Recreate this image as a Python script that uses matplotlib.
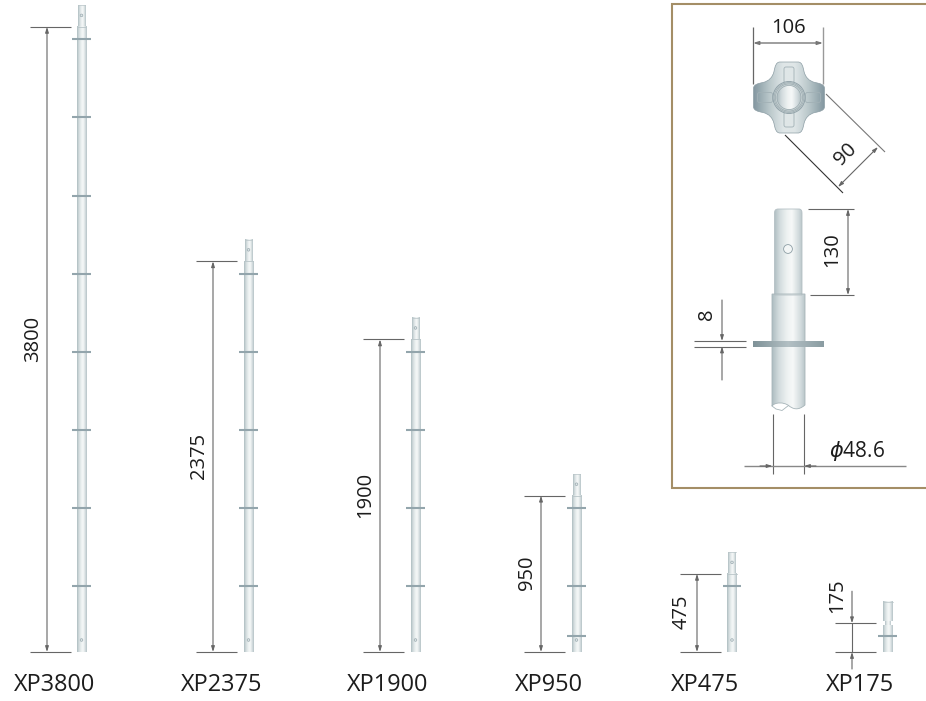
import matplotlib
matplotlib.use("Agg")
import matplotlib.pyplot as plt
import numpy as np
from matplotlib.colors import LinearSegmentedColormap
from matplotlib.patches import Circle, FancyBboxPatch, PathPatch
from matplotlib.path import Path

MODELS = ["XP3800", "XP2375", "XP1900", "XP950", "XP475", "XP175"]
LENGTHS = [3800, 2375, 1900, 950, 475, 175]
LENGTH_LABELS = ["3800", "2375", "1900", "950", "475", "175"]
# ring heights above the foot of each post, mm
RINGS = [
    [400, 875, 1350, 1825, 2300, 2775, 3250, 3725],
    [400, 875, 1350, 1825, 2300],
    [400, 875, 1350, 1825],
    [100, 400, 875],
    [400],
    [100],
]
DETAIL_LABELS = ["106", "90", "130", "8"]
PIPE_LABEL = r"$\phi$48.6"

POST_X = [81.5, 248.5, 415.5, 576.5, 732, 887.5]
DIM_X = [47, 213, 380, 541, 697, 852]
LABEL_X = [55, 222, 388, 549, 705, 860]
TEXT_X = [33, 199, 365, 527, 682, 837]
TEXT_Y = [339, 456, 495, 573, 612, 596]

BASE_Y = 652
MM_PX = 0.1645
PIN_PX = 21.5

LINE = "#666666"
TEXT = "#1c1c1c"
RING = "#93a5ac"
FRAME = "#a48e66"

plt.rcParams["font.family"] = ["Open Sans", "DejaVu Sans"]
plt.rcParams["mathtext.fontset"] = "dejavusans"

metal = LinearSegmentedColormap.from_list(
    "metal",
    [(0, "#aebdc1"), (0.2, "#d3dcde"), (0.45, "#eef2f2"), (0.62, "#f6f8f8"), (0.85, "#d3dcde"), (1, "#b5c2c6")],
)
flange = LinearSegmentedColormap.from_list("flange", ["#7f9298", "#b3c0c4", "#8a9ca2"])
knob_map = LinearSegmentedColormap.from_list(
    "knob",
    [(0, "#8397a0"), (0.22, "#b9c7ca"), (0.42, "#dfe6e7"), (0.58, "#dfe6e7"), (0.78, "#b9c7ca"), (1, "#8397a0")],
)
GRAD = np.linspace(0, 1, 64).reshape(1, -1)

fig = plt.figure(figsize=(9.26, 7.01), dpi=100)
ax = fig.add_axes([0, 0, 1, 1])


def y_of(mm):
    return BASE_Y - mm * MM_PX


def shade(x0, x1, y0, y1, cmap=metal, clip=None, zorder=2):
    im = ax.imshow(GRAD, extent=(x0, x1, y1, y0), aspect="auto", cmap=cmap, zorder=zorder, interpolation="bilinear")
    if clip is not None:
        im.set_clip_path(clip)
    return im


def line(x0, y0, x1, y1, color=LINE, lw=0.8):
    ax.plot([x0, x1], [y0, y1], color=color, lw=lw, solid_capstyle="butt", zorder=3)


def arrow(x0, y0, x1, y1, both=False, color=LINE, lw=0.8):
    style = "<|-|>" if both else "-|>"
    ax.annotate(
        "",
        xy=(x1, y1),
        xytext=(x0, y0),
        arrowprops=dict(
            arrowstyle=style + ",head_length=0.32,head_width=0.1",
            color=color,
            lw=lw,
            shrinkA=0,
            shrinkB=0,
        ),
        zorder=4,
    )


def draw_post(x, length, rings, short=False):
    top = y_of(length)
    pin_half = 5 if short else 3.8
    tube_half = 4.6
    shade(x - pin_half, x + pin_half, top - PIN_PX, top - (2 if short else 0))
    if short:
        # narrow neck between the pin and the foot
        shade(x - 3, x + 3, top - 2, top + 3)
    shade(x - tube_half, x + tube_half, top + (2 if short else 0), BASE_Y)
    ax.plot([x - pin_half, x + pin_half], [top - PIN_PX, top - PIN_PX], color="#b9c5c8", lw=0.5, zorder=3)
    if not short:
        ax.plot([x - tube_half, x + tube_half], [top, top], color="#b9c5c8", lw=0.6, zorder=3)
        for hole_y in (top - PIN_PX + 10, BASE_Y - 12):
            ax.add_patch(Circle((x, hole_y), 1.3, fc="#dfe6e7", ec="#9aaab0", lw=0.5, zorder=3))
    for mm in rings:
        ax.plot([x - 9.2, x + 9.2], [y_of(mm), y_of(mm)], color=RING, lw=1.5, solid_capstyle="butt", zorder=3)


for i, model in enumerate(MODELS):
    x = POST_X[i]
    top = y_of(LENGTHS[i])
    draw_post(x, LENGTHS[i], RINGS[i], short=LENGTHS[i] == 175)
    d = DIM_X[i]
    line(d - 17, top, d + 24, top)
    line(d - 17, BASE_Y, d + 24, BASE_Y)
    if LENGTHS[i] == 175:
        line(d, top, d, BASE_Y)
        arrow(d, top - 32, d, top)
        arrow(d, BASE_Y + 17, d, BASE_Y)
    else:
        arrow(d, top, d, BASE_Y, both=True)
    ax.text(TEXT_X[i], TEXT_Y[i], LENGTH_LABELS[i], rotation=90, fontsize=14.5, color=TEXT, ha="center", va="center")
    ax.text(LABEL_X[i], 685, model, fontsize=16.9, color=TEXT, ha="center", va="center")

# detail panel frame, open on the right
ax.plot([926, 672, 672, 926], [4, 4, 488, 488], color=FRAME, lw=1.5, solid_joinstyle="miter", zorder=1)

# knob seen from above, one arm rotated four times
cx, cy = 789, 97.5
ARM = [
    (Path.LINETO, (9, -35.5)),
    (Path.CURVE4, (13, -35.5)),
    (Path.CURVE4, (14, -31)),
    (Path.CURVE4, (15, -26)),
    (Path.CURVE4, (16.5, -20)),
    (Path.CURVE4, (20, -16.5)),
    (Path.CURVE4, (26, -15)),
    (Path.CURVE4, (31, -14)),
    (Path.CURVE4, (35.5, -13)),
    (Path.CURVE4, (35.5, -9)),
]
verts, codes = [(-9, -35.5)], [Path.MOVETO]
rot = np.array([[0, -1], [1, 0]])
for turn in range(4):
    m = np.linalg.matrix_power(rot, turn)
    for code, pt in ARM:
        codes.append(code)
        verts.append(tuple(m @ np.array(pt)))
knob = Path(np.array(verts) + (cx, cy), codes)
knob_patch = PathPatch(knob, fc="none", ec="#8d9ea5", lw=0.5, zorder=3)
ax.add_patch(knob_patch)
shade(cx - 36, cx + 36, cy - 36, cy + 36, cmap=knob_map, clip=knob_patch)
# slots in the four arms
for w, h, dx, dy in [(10, 16, 0, -22.5), (10, 15, 0, 22), (15, 10, -24, 0), (15, 10, 24, 0)]:
    ax.add_patch(
        FancyBboxPatch(
            (cx + dx - w / 2 + 2, cy + dy - h / 2 + 2), w - 4, h - 4,
            boxstyle="round,pad=2", fc="none", ec="#a2b1b6", lw=0.6, zorder=4,
        )
    )
ax.add_patch(Circle((cx, cy), 16, fc="#c8d3d5", ec="#8d9ea5", lw=0.6, zorder=5))
for r in (14.8, 13.6):
    ax.add_patch(Circle((cx, cy), r, fc="none", ec="#9aa9ae", lw=0.5, zorder=6))
hub = Circle((cx, cy), 12, fc="none", ec="#9aa9ae", lw=0.5, zorder=7)
ax.add_patch(hub)
shade(cx - 12, cx + 12, cy - 12, cy + 12, clip=hub, zorder=6)

line(753, 27, 753, 84, lw=0.9)
line(823, 27, 823, 84, color="#999999", lw=1.0)
arrow(753, 43, 823, 43, both=True, color="#777777", lw=1.0)
ax.text(788.5, 28, DETAIL_LABELS[0], fontsize=14.5, color=TEXT, ha="center", va="center")
line(826, 94, 885, 152, color="#777777")
line(785, 135, 843, 193, color="#333333")
arrow(838, 187, 878, 147, both=True)
ax.text(846, 154, DETAIL_LABELS[1], rotation=45, fontsize=14.5, color=TEXT, ha="center", va="center", rotation_mode="anchor")

# pipe end, side view
pin_path = Path(
    [(774.5, 295), (774.5, 213), (774.5, 209), (778, 209), (799, 209), (802, 209), (802, 213), (802, 295), (774.5, 295)],
    [Path.MOVETO, Path.LINETO, Path.CURVE3, Path.CURVE3, Path.LINETO, Path.CURVE3, Path.CURVE3, Path.LINETO, Path.CLOSEPOLY],
)
pin_patch = PathPatch(pin_path, fc="none", ec="#b4c0c4", lw=0.6, zorder=3)
ax.add_patch(pin_patch)
shade(774, 802.5, 209, 295, clip=pin_patch)
ax.add_patch(Circle((788, 249), 4.4, fc="#f3f6f6", ec="#8d9ea5", lw=0.6, zorder=4))

tube_path = Path(
    [(772, 294), (805, 294), (805, 405), (798, 411), (793, 409), (788.5, 405.5), (784, 402), (775, 402), (772, 406), (772, 294)],
    [Path.MOVETO, Path.LINETO, Path.LINETO, Path.CURVE4, Path.CURVE4, Path.CURVE4, Path.CURVE4, Path.CURVE4, Path.CURVE4, Path.CLOSEPOLY],
)
tube_patch = PathPatch(tube_path, fc="none", ec="#a7b5b9", lw=0.6, zorder=3)
ax.add_patch(tube_patch)
shade(771.5, 805.5, 294, 412, clip=tube_patch)
ax.plot([772, 776, 782, 788.5], [406, 409, 410.5, 405.5], color="#a7b5b9", lw=0.6, zorder=3)
shade(753, 824, 341, 347, cmap=flange, zorder=3)

line(808, 209, 854, 209)
line(810, 295, 854, 295)
arrow(848, 209, 848, 295, both=True)
ax.text(832, 250, DETAIL_LABELS[2], rotation=90, fontsize=14.5, color=TEXT, ha="center", va="center")
line(694, 341, 746, 341)
line(694, 346.5, 746, 346.5)
arrow(722, 300, 722, 341)
arrow(722, 380, 722, 346.5)
ax.text(707, 314, DETAIL_LABELS[3], rotation=90, fontsize=14.5, color=TEXT, ha="center", va="center")
line(772.5, 414, 772.5, 474)
line(804, 414, 804, 474)
line(744, 466, 906, 466, color="#888888", lw=1.0)
arrow(760, 466, 772.5, 466)
arrow(816, 466, 804, 466)
ax.text(857, 451, PIPE_LABEL, fontsize=15, color=TEXT, ha="center", va="center")

ax.set_xlim(0, 926)
ax.set_ylim(701, 0)
ax.axis("off")
fig.savefig("out.png", dpi=100)
